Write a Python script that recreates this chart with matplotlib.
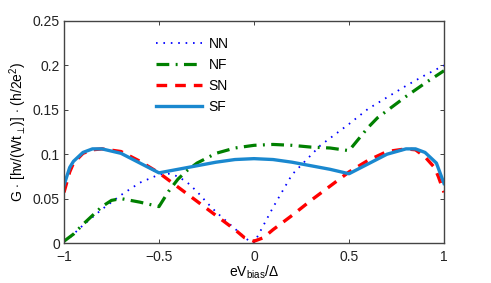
import numpy as np
import matplotlib
matplotlib.use("Agg")
import matplotlib.pyplot as plt

plt.rcParams['font.family'] = ['Liberation Sans', 'DejaVu Sans']
plt.rcParams['mathtext.fontset'] = 'custom'
plt.rcParams['mathtext.rm'] = 'Liberation Sans'
plt.rcParams['mathtext.it'] = 'Liberation Sans:italic'

# bias voltage eV/Delta for each curve
x_nn = [-1.0, -0.97, -0.9, -0.8, -0.7, -0.6, -0.5, -0.45, -0.4, -0.35, -0.3, -0.25,
        -0.2, -0.1, -0.03, 0.0, 0.05, 0.1, 0.2, 0.3, 0.35, 0.4, 0.5, 0.6, 0.7, 0.8, 0.9, 1.0]
g_nn = [0.002, 0.006, 0.02, 0.038, 0.054, 0.068, 0.077, 0.078, 0.075, 0.068, 0.058, 0.046,
        0.035, 0.016, 0.003, 0.0, 0.02, 0.04, 0.077, 0.099, 0.11, 0.118, 0.134, 0.151,
        0.164, 0.177, 0.189, 0.2]

x_nf = [-1.0, -0.95, -0.9, -0.85, -0.8, -0.75, -0.7, -0.6, -0.5, -0.45, -0.4, -0.35,
        -0.3, -0.2, -0.1, 0.0, 0.1, 0.2, 0.3, 0.4, 0.5, 0.55, 0.6, 0.65, 0.7, 0.8, 0.9, 1.0]
g_nf = [0.002, 0.01, 0.021, 0.031, 0.041, 0.048, 0.05, 0.046, 0.041, 0.058, 0.072, 0.082,
        0.09, 0.101, 0.107, 0.11, 0.111, 0.11, 0.108, 0.107, 0.104, 0.117, 0.13, 0.141,
        0.149, 0.165, 0.18, 0.194]

x_sn = [-1.0, -0.97, -0.95, -0.9, -0.85, -0.8, -0.7, -0.6, -0.5, -0.4, -0.3, -0.2, -0.1,
        -0.05, 0.0, 0.05, 0.1, 0.2, 0.3, 0.4, 0.5, 0.6, 0.7, 0.8, 0.85, 0.9, 0.95, 0.97, 1.0]
g_sn = [0.057, 0.08, 0.09, 0.101, 0.105, 0.106, 0.103, 0.092, 0.079, 0.063, 0.047, 0.031,
        0.015, 0.006, 0.002, 0.006, 0.015, 0.031, 0.048, 0.064, 0.08, 0.093, 0.103, 0.106,
        0.105, 0.097, 0.085, 0.075, 0.057]

x_sf = [-1.0, -0.97, -0.95, -0.9, -0.85, -0.8, -0.7, -0.6, -0.5, -0.4, -0.3, -0.2, -0.1,
        0.0, 0.1, 0.2, 0.3, 0.4, 0.5, 0.6, 0.7, 0.8, 0.85, 0.9, 0.96, 1.0]
g_sf = [0.065, 0.085, 0.092, 0.102, 0.106, 0.106, 0.101, 0.09, 0.079, 0.083, 0.087, 0.091,
        0.094, 0.095, 0.094, 0.091, 0.087, 0.083, 0.078, 0.089, 0.1, 0.106, 0.106, 0.102,
        0.09, 0.067]

x_ticks = [-1, -0.5, 0, 0.5, 1]
x_ticklabels = ['\u22121', '\u22120.5', '0', '0.5', '1']
y_ticks = [0, 0.05, 0.1, 0.15, 0.2, 0.25]
y_ticklabels = ['0', '0.05', '0.1', '0.15', '0.2', '0.25']

fig = plt.figure(figsize=(4.91, 2.83), dpi=100)
ax = fig.add_axes([0.1303, 0.1413, 0.774, 0.7845])

ax.plot(x_nn, g_nn, color='#0000ff', linestyle=(0, (0.9, 3.2)), linewidth=1.3, label='NN')
ax.plot(x_nf, g_nf, color='#008000', linestyle=(0, (4.0, 2.0, 0.6, 2.0)), linewidth=2.3,
        label='NF')
ax.plot(x_sn, g_sn, color='#ff0000', linestyle=(0, (3.2, 2.4)), linewidth=2.4, label='SN')
ax.plot(x_sf, g_sf, color='#1a88cf', linestyle='-', linewidth=2.4, label='SF')

ax.set_xlim(-1, 1)
ax.set_ylim(0, 0.25)
ax.set_xticks(x_ticks)
ax.set_xticklabels(x_ticklabels)
ax.set_yticks(y_ticks)
ax.set_yticklabels(y_ticklabels)
ax.tick_params(direction='in', top=True, right=True, length=3, width=0.6,
               labelsize=10, colors='#222222', pad=3)
ax.tick_params(axis='x', pad=5)
for sp in ax.spines.values():
    sp.set_linewidth(1.0)
    sp.set_color('#444444')

ax.set_xlabel(r'eV$_{\mathrm{bias}}$/$\Delta$', fontsize=10, labelpad=0)
ax.set_ylabel(r'G $\cdot$ [hv/(Wt$_{\perp}$)] $\cdot$ (h/2e$^2$)', fontsize=10, labelpad=3)

ax.legend(loc='upper left', bbox_to_anchor=(0.2, 1.0), frameon=False, fontsize=10,
          handlelength=3.3, handletextpad=0.5, labelspacing=0.5, borderaxespad=0.75)

fig.savefig('out.png', dpi=100)
